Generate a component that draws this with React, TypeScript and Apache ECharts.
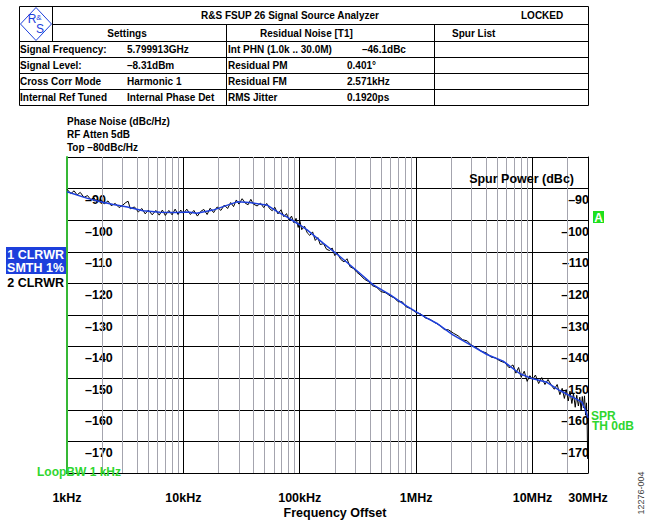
import React, { useEffect, useRef } from "react";
import * as echarts from "echarts";

const FONT = "'Liberation Sans', Arial, Helvetica, sans-serif";

// ---- axis ticks ----
const xTickValues = [1e3, 1e4, 1e5, 1e6, 1e7, 3e7];
const xTickLabels = ["1kHz", "10kHz", "100kHz", "1MHz", "10MHz", "30MHz"];
const minorGridFreqs = [
  2e3, 3e3, 4e3, 5e3, 6e3, 7e3, 8e3, 9e3,
  2e4, 3e4, 4e4, 5e4, 6e4, 7e4, 8e4, 9e4,
  2e5, 3e5, 4e5, 5e5, 6e5, 7e5, 8e5, 9e5,
  2e6, 3e6, 4e6, 5e6, 6e6, 7e6, 8e6, 9e6,
  2e7,
];
const yTickValues = [-90, -100, -110, -120, -130, -140, -150, -160, -170];

// ---- trace 1 (blue, smoothed) ----
const blueFreq = [
  1000, 1500, 1900, 2500, 3300, 4500, 6300, 8800, 11000, 13000, 18000, 25000,
  29000, 37000, 53000, 64000, 78000, 97000, 115000, 158000, 220000, 310000,
  425000, 600000, 830000, 1020000, 1240000, 1500000, 2070000, 2900000, 4060000,
  5600000, 7800000, 10100000, 13300000, 17200000, 22200000, 26600000, 28300000,
  30000000,
];
const blueLevel = [
  -91.0, -93.1, -94.1, -95.0, -95.8, -97.0, -97.5, -97.6, -97.4, -97.8, -96.8,
  -95.0, -94.2, -94.4, -95.3, -97.3, -99.0, -101.2, -103.0, -107.2, -111.4,
  -116.0, -120.4, -123.6, -127.2, -129.2, -131.0, -132.6, -136.3, -139.4,
  -142.5, -144.6, -148.6, -150.2, -151.3, -153.9, -156.0, -157.6, -159.8,
  -162.5,
];

// ---- trace 2 (black, raw) ----
const blackFreqKHz = [
  1.0, 1.08, 1.15, 1.22, 1.3, 1.4, 1.5, 1.6, 1.7, 1.8, 1.95, 2.1, 2.25, 2.4,
  2.6, 2.8, 3.0, 3.2, 3.35, 3.5, 3.8, 4.1, 4.4, 4.7, 5.0, 5.4, 5.8, 6.2, 6.6,
  7.0, 7.5, 8.0, 8.5, 9.0, 9.5, 10.0, 10.7, 11.5, 12.3, 13.2, 14.1, 15.0, 16.0,
  17.0, 18.2, 19.5, 21, 22.5, 24, 25.5, 27, 28.5, 30, 32, 34, 36, 38, 40, 43,
  46, 49, 52, 55, 58, 61, 65, 69, 73, 77, 81, 85, 89, 93, 97, 100, 104, 110,
  116, 122, 129, 136, 143, 150, 160, 170, 180, 190, 200, 210, 225, 240, 255,
  270, 290, 310, 330, 360, 390, 420, 460, 500, 550, 600, 650, 700, 760, 820,
  900, 1000, 1100, 1200, 1320, 1450, 1600, 1750, 1900, 2100, 2300, 2500, 2750,
  3000, 3300, 3600, 4000, 4400, 4800, 5300, 5800, 6300, 6800, 7200, 7600, 8000,
  8500, 9000, 9500, 10000, 10600, 11300, 12000, 12800, 13600, 14500, 15400,
  16300, 17200, 18000, 18800, 19500, 20300, 21000, 21800, 22500, 23300, 24000,
  24800, 25500, 26200, 26800, 27400, 28000, 28600, 29100, 29500, 29800, 30000,
];
const blackLevel = [
  -90.2, -91.6, -90.7, -92.0, -91.2, -92.8, -92.2, -93.5, -92.9, -94.2, -93.4,
  -94.8, -93.9, -95.4, -94.7, -96.0, -95.3, -94.4, -94.0, -96.4, -95.8, -97.4,
  -96.3, -98.0, -96.8, -98.3, -96.9, -98.4, -96.8, -98.5, -96.9, -98.3, -96.5,
  -98.2, -96.8, -97.9, -96.5, -98.2, -96.9, -98.7, -97.2, -96.6, -98.2, -96.2,
  -97.6, -95.8, -96.9, -95.2, -96.3, -94.4, -95.7, -93.6, -94.9, -93.2, -94.6,
  -95.1, -93.4, -94.9, -95.5, -94.6, -96.0, -94.7, -96.3, -97.0, -95.9, -98.0,
  -96.7, -98.9, -97.9, -100.0, -98.7, -100.8, -99.4, -102.3, -100.0, -103.0,
  -101.9, -104.0, -104.8, -103.7, -106.4, -105.5, -107.7, -107.4, -109.2,
  -109.6, -108.8, -111.2, -110.4, -112.4, -113.2, -112.2, -114.7, -115.3,
  -116.5, -117.3, -118.7, -119.4, -120.7, -121.3, -122.6, -123.0, -124.0,
  -124.6, -125.8, -125.8, -127.4, -128.0, -129.2, -129.7, -130.9, -131.4,
  -132.4, -133.3, -134.6, -134.7, -135.8, -136.6, -137.8, -138.2, -139.6,
  -140.3, -141.4, -142.0, -143.3, -143.6, -144.6, -145.1, -146.7, -145.8,
  -148.4, -146.6, -149.7, -147.8, -151.0, -149.2, -150.5, -149.0, -151.7,
  -149.8, -152.0, -150.4, -152.2, -153.5, -152.0, -155.2, -153.2, -156.4,
  -153.6, -157.2, -154.1, -158.0, -154.8, -159.2, -155.4, -158.8, -156.0,
  -160.2, -155.8, -159.4, -155.6, -161.7, -157.8, -164.2, -175.5, -170.0,
];

// ---- header table ----
const settingsLabels = ["Signal Frequency:", "Signal Level:", "Cross Corr Mode", "Internal Ref Tuned"];
const settingsValues = ["5.799913GHz", "\u20138.31dBm", "Harmonic 1", "Internal Phase Det"];
const noiseLabels = ["Int PHN (1.0k .. 30.0M)", "Residual PM", "Residual FM", "RMS Jitter"];
const noiseValues = ["\u201346.1dBc", "0.401\u00b0", "2.571kHz", "0.1920ps"];

const GREEN = "#2fd62f";
const BLUE = "#1d3fdc";

function txt(x: number, y: number, text: string, o: any = {}) {
  return {
    type: "text",
    x,
    y,
    z: 10,
    style: {
      text,
      fill: o.fill || "#000",
      fontSize: o.fontSize || 10,
      fontWeight: o.fontWeight || "bold",
      fontFamily: FONT,
      align: o.align || "left",
      verticalAlign: "middle",
    },
    rotation: o.rotation || 0,
  };
}
function hline(x1: number, x2: number, y: number) {
  return { type: "line", shape: { x1, y1: y, x2, y2: y }, style: { stroke: "#000", lineWidth: 1 } };
}
function vline(x: number, y1: number, y2: number) {
  return { type: "line", shape: { x1: x, y1, x2: x, y2 }, style: { stroke: "#000", lineWidth: 1 } };
}

export default function App() {
  const ref = useRef<HTMLDivElement>(null);
  useEffect(() => {
    document.body.style.margin = "0";
    const chart = echarts.init(ref.current!, null, { renderer: "svg" });

    const rowY = [49.5, 65.5, 81.5, 97.5];
    const tableLinesY = [24.5, 41.5, 57.5, 73.5, 89.5];
    const graphic: any[] = [
      { type: "rect", shape: { x: 19.5, y: 6.5, width: 569, height: 99 }, style: { fill: "none", stroke: "#000", lineWidth: 1 } },
      hline(52.5, 588.5, tableLinesY[0]),
      ...tableLinesY.slice(1).map((y) => hline(19.5, 588.5, y)),
      vline(52.5, 6.5, 41.5),
      vline(226.5, 24.5, 105.5),
      vline(434.5, 24.5, 105.5),
      // logo
      {
        type: "polygon",
        shape: { points: [[36, 7.5], [51.5, 24], [36, 40.5], [20.5, 24]] },
        style: { fill: "none", stroke: BLUE, lineWidth: 1 },
      },
      txt(32, 19, "R", { fill: BLUE, fontSize: 12, fontWeight: "normal", align: "center" }),
      txt(39, 17, "&", { fill: BLUE, fontSize: 8, fontWeight: "normal", align: "center" }),
      txt(40, 29, "S", { fill: BLUE, fontSize: 12, fontWeight: "normal", align: "center" }),
      txt(290, 15.5, "R&S FSUP 26 Signal Source Analyzer", { align: "center" }),
      txt(521, 15.5, "LOCKED"),
      txt(127, 33, "Settings", { align: "center" }),
      txt(260, 33, "Residual Noise [T1]"),
      txt(452, 33, "Spur List"),
      ...settingsLabels.map((s, i) => txt(20, rowY[i], s)),
      ...settingsValues.map((s, i) => txt(127, rowY[i], s)),
      ...noiseLabels.map((s, i) => txt(228, rowY[i], s)),
      ...noiseValues.map((s, i) => txt(i === 0 ? 362 : 347, rowY[i], s)),
      // plot annotations
      txt(67, 121, "Phase Noise (dBc/Hz)"),
      txt(67, 134, "RF Atten 5dB"),
      txt(67, 147, "Top \u201380dBc/Hz"),
      txt(574, 179, "Spur Power (dBc)", { fontSize: 12.5, align: "right" }),
      { type: "rect", shape: { x: 593, y: 211, width: 11, height: 12 }, style: { fill: "#1ee01e" }, z: 9 },
      txt(598.5, 217.5, "A", { fill: "#fff", fontSize: 12, align: "center" }),
      { type: "rect", shape: { x: 6, y: 247, width: 60, height: 27 }, style: { fill: BLUE }, z: 9 },
      txt(64, 254.5, "1 CLRWR", { fill: "#fff", fontSize: 12.5, align: "right" }),
      txt(64, 268, "SMTH 1%", { fill: "#fff", fontSize: 12.5, align: "right" }),
      txt(64, 283, "2 CLRWR", { fontSize: 12.5, align: "right" }),
      txt(591, 416, "SPR", { fill: GREEN, fontSize: 12 }),
      txt(592, 425.5, "TH 0dB", { fill: GREEN, fontSize: 12 }),
      txt(37, 472, "LoopBW 1 kHz", { fill: GREEN, fontSize: 12 }),
      txt(335, 512.5, "Frequency Offset", { fontSize: 12.5, align: "center" }),
      txt(641, 493, "12276-004", { fill: "#444", fontSize: 9, fontWeight: "normal", align: "center", rotation: Math.PI / 2 }),
    ];

    const option: any = {
      animation: false,
      backgroundColor: "#fff",
      grid: { left: 67, top: 157, right: 61, bottom: 48, containLabel: false, outerBoundsMode: "none" },
      xAxis: {
        type: "log",
        logBase: 10,
        min: 1000,
        max: 3e7,
        axisLine: { show: true, lineStyle: { color: "#000", width: 1 } },
        axisTick: { show: false },
        splitLine: { show: true, lineStyle: { color: "#000", width: 1 } },
        minorSplitLine: { show: false },
        axisLabel: {
          showMinLabel: true,
          showMaxLabel: true,
          margin: 18,
          fontFamily: FONT,
          fontWeight: "bold",
          fontSize: 12.5,
          lineHeight: 14,
          color: "#000",
          formatter: (v: number) => {
            const i = xTickValues.findIndex((t) => Math.abs(v - t) / t < 0.02);
            return i >= 0 ? xTickLabels[i] : "";
          },
        },
      },
      yAxis: [
        {
          type: "value",
          min: -180,
          max: -80,
          interval: 10,
          position: "left",
          axisLine: { show: true, onZero: false, lineStyle: { color: "#35b835", width: 2 } },
          axisTick: { show: false },
          splitLine: { show: true, lineStyle: { color: "#000", width: 1 } },
          axisLabel: {
            inside: true,
            margin: 18,
            fontFamily: FONT,
            fontWeight: "bold",
            fontSize: 12.5,
            lineHeight: 14,
            verticalAlign: "top",
            padding: [4.5, 0, 0, 0],
            color: "#000",
            formatter: (v: number) => (yTickValues.includes(v) ? "\u2013" + Math.abs(v) : ""),
          },
        },
        {
          type: "value",
          min: -180,
          max: -80,
          interval: 10,
          position: "right",
          axisLine: { show: true, onZero: false, lineStyle: { color: "#000", width: 1 } },
          axisTick: { show: false },
          splitLine: { show: false },
          axisLabel: {
            inside: true,
            margin: -1,
            fontFamily: FONT,
            fontWeight: "bold",
            fontSize: 12.5,
            lineHeight: 14,
            verticalAlign: "top",
            padding: [4.5, 0, 0, 0],
            color: "#000",
            formatter: (v: number) => (yTickValues.includes(v) ? "\u2013" + Math.abs(v) : ""),
          },
        },
      ],
      series: [
        {
          name: "2 CLRWR",
          type: "line",
          data: blackFreqKHz.map((f, i) => [f * 1000, blackLevel[i]]),
          showSymbol: false,
          symbol: "none",
          lineStyle: { color: "#000", width: 1 },
          z: 3,
          markLine: {
            silent: true,
            z: 1,
            symbol: ["none", "none"],
            label: { show: false },
            lineStyle: { color: "#a4a4ae", width: 1, type: "solid" },
            data: minorGridFreqs.map((f) => ({ xAxis: f })),
          },
        },
        {
          name: "1 CLRWR",
          type: "line",
          data: blueFreq.map((f, i) => [f, blueLevel[i]]),
          showSymbol: false,
          symbol: "none",
          lineStyle: { color: BLUE, width: 1.5 },
          z: 4,
        },
      ],
      graphic,
    };
    chart.setOption(option);
    return () => chart.dispose();
  }, []);
  return <div ref={ref} style={{ width: 649, height: 521 }} />;
}
